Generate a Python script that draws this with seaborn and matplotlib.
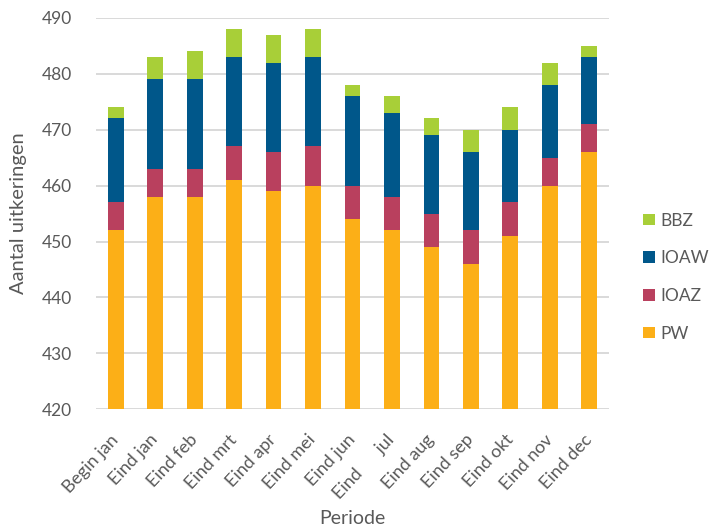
import numpy as np
import matplotlib
matplotlib.use('Agg')
import matplotlib.pyplot as plt
import seaborn as sns

# Data (aantal uitkeringen per regeling, gestapeld)
periods = ["Begin jan", "Eind jan", "Eind feb", "Eind mrt", "Eind apr", "Eind mei",
           "Eind jun", "Eind      jul", "Eind aug", "Eind sep", "Eind okt", "Eind nov", "Eind dec"]
pw   = [452, 458, 458, 461, 459, 460, 454, 452, 449, 446, 451, 460, 466]
ioaz = [5, 5, 5, 6, 7, 7, 6, 6, 6, 6, 6, 5, 5]
ioaw = [15, 16, 16, 16, 16, 16, 16, 15, 14, 14, 13, 13, 12]
bbz  = [2, 4, 5, 5, 5, 5, 2, 3, 3, 4, 4, 4, 2]

series = [("PW", pw, "#FCAF17"),
          ("IOAZ", ioaz, "#B9405E"),
          ("IOAW", ioaw, "#00578A"),
          ("BBZ", bbz, "#A8CF38")]

TEXT = "#595959"
GRID = "#D9D9D9"

sns.set_theme(style="white")
plt.rcParams['font.family'] = ['Lato', 'DejaVu Sans']

fig = plt.figure(figsize=(7.11, 5.32), dpi=100)
ax = fig.add_axes([0.135, 0.2306, 0.7215, 0.736])

# stacked bars: each series on top of the previous ones
bottom = np.zeros(len(periods))
for name, vals, col in series:
    sns.barplot(x=periods, y=vals, bottom=bottom, color=col, saturation=1,
                width=0.4, label=name, ax=ax, zorder=3, linewidth=0)
    bottom = bottom + np.array(vals)

handles, labels = ax.get_legend_handles_labels()
if ax.get_legend() is not None:
    ax.get_legend().remove()

ax.set_ylim(420, 490)
ax.set_xlim(-0.5, len(periods) - 0.5)
ax.set_yticks(range(420, 491, 10))
ax.yaxis.grid(True, color=GRID, linewidth=1.4, zorder=0)
ax.set_axisbelow(True)
sns.despine(ax=ax, left=True, bottom=True)

ax.tick_params(axis='y', length=0, pad=17, labelsize=12.5, labelcolor=TEXT)
ax.tick_params(axis='x', length=0, pad=20, labelsize=13, labelcolor=TEXT)
plt.setp(ax.get_xticklabels(), rotation=47, ha='right', va='center', rotation_mode='anchor')

ax.set_ylabel("Aantal uitkeringen", fontsize=14.5, color=TEXT)
ax.set_xlabel("Periode", fontsize=14, color=TEXT)
ax.yaxis.set_label_coords(-0.134, 0.5)
ax.xaxis.set_label_coords(0.5, -0.258)

fig.legend(handles[::-1], labels[::-1], loc='center left',
           bbox_to_anchor=(0.905, 0.479), frameon=False, fontsize=12.5,
           labelcolor=TEXT, handlelength=0.65, handleheight=0.65,
           handletextpad=0.35, labelspacing=1.25, borderpad=0, borderaxespad=0)

fig.savefig("out.png", dpi=100)
